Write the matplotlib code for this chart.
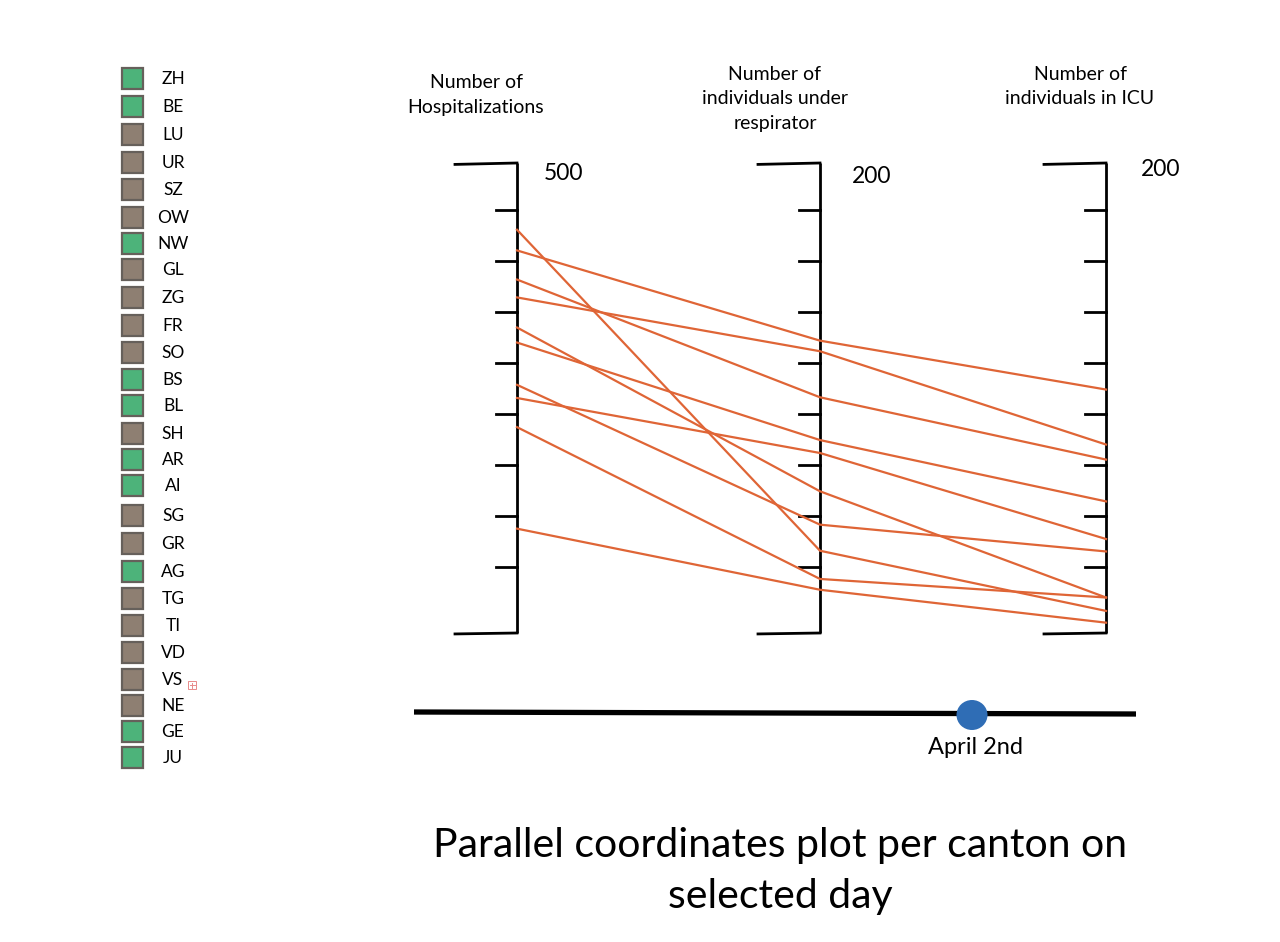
import matplotlib
matplotlib.use("Agg")
import matplotlib.pyplot as plt
from matplotlib.patches import Rectangle, Ellipse
import numpy as np

plt.rcParams['font.family'] = ['Lato', 'DejaVu Sans']

# ---------------- data ----------------
cantons = ["ZH", "BE", "LU", "UR", "SZ", "OW", "NW", "GL", "ZG", "FR", "SO", "BS", "BL",
           "SH", "AR", "AI", "SG", "GR", "AG", "TG", "TI", "VD", "VS", "NE", "GE", "JU"]
selected = ["ZH", "BE", "NW", "BS", "BL", "AR", "AI", "AG", "GE", "JU"]

axis_titles = ["Number of\nHospitalizations",
               "Number of\nindividuals under\nrespirator",
               "Number of\nindividuals in ICU"]
axis_max = [500, 200, 200]

# values per selected canton (hospitalizations, respirator, ICU)
hospitalizations = [429, 407, 376, 357, 325, 309, 264, 250, 219, 111]
respirator       = [35.0, 124.4, 100.3, 119.9, 60.3, 82.1, 46.1, 76.6, 23.0, 18.4]
icu              = [9.4, 103.6, 73.8, 80.2, 15.1, 56.0, 34.7, 40.0, 15.1, 4.4]

selected_day = "April 2nd"
title = "Parallel coordinates plot per canton on\nselected day"

# ---------------- style / layout ----------------
W, H = 1280, 942
GREEN = "#4DB37A"
BROWN = "#8E7F72"
EDGE = "#66605B"
ORANGE = "#DF6536"
BLUE = "#2F6DB5"

fig = plt.figure(figsize=(W / 100, H / 100), dpi=100)
fig.patch.set_facecolor("white")

# layout axes in pixel coordinates for decorations
lay = fig.add_axes([0, 0, 1, 1])
lay.set_xlim(0, W)
lay.set_ylim(H, 0)
lay.axis("off")

# parallel coordinates axes: x in pixels, y normalised 0..1
top_px, bot_px = 163, 633
pc = fig.add_axes([0, (H - bot_px) / H, 1, (bot_px - top_px) / H])
pc.set_xlim(0, W)
pc.set_ylim(0, 1)
pc.axis("off")
pc.patch.set_alpha(0)

axis_x = [517, 820, 1106]
cap_len = 62
tick_len = 21
tick_pos = np.linspace(0.9, 0.14, 8)
max_label_off = [(27, 0.978), (32, 0.972), (35, 0.987)]

for i, x in enumerate(axis_x):
    pc.plot([x, x], [0, 1], color="black", lw=2.0, solid_capstyle="butt", clip_on=False)
    pc.plot([x - cap_len, x], [0.997, 1], color="black", lw=2.0, clip_on=False)
    pc.plot([x - cap_len, x], [-0.002, 0], color="black", lw=2.0, clip_on=False)
    for t in tick_pos:
        pc.plot([x - tick_len, x], [t, t], color="black", lw=2.0, clip_on=False)
    dx, yy = max_label_off[i]
    pc.text(x + dx, yy, str(axis_max[i]), fontsize=16.5, ha="left", va="center")

# polylines
data = np.array([hospitalizations, respirator, icu], dtype=float)
norm = data / np.array(axis_max, dtype=float)[:, None]
for k in range(norm.shape[1]):
    pc.plot(axis_x, norm[:, k], color=ORANGE, lw=1.6, clip_on=False, zorder=3)

# axis titles
title_pos = [(476, 95), (775, 99), (1080, 87)]
for (tx, ty), t in zip(title_pos, axis_titles):
    lay.text(tx, ty, t, fontsize=14, ha="center", va="center", linespacing=1.5)

# legend of cantons
row_y = [79, 107, 135, 163, 190, 218, 244, 270, 298, 326, 353, 380, 406,
         434, 460, 486, 516, 544, 572, 599, 626, 653, 680, 706, 732, 758]
for c, y in zip(cantons, row_y):
    col = GREEN if c in selected else BROWN
    lay.add_patch(Rectangle((122, y - 11), 21, 21, facecolor=col, edgecolor=EDGE, lw=1.6))
    lay.text(173, y, c, fontsize=12.5, ha="center", va="center")
    if c == "VS":
        lay.add_patch(Rectangle((188, y + 1), 8, 8, facecolor="none", edgecolor="#E88A8A", lw=0.7))
        lay.plot([192, 192], [y + 2.5, y + 7.5], color="#E88A8A", lw=0.7)
        lay.plot([189.5, 194.5], [y + 5, y + 5], color="#E88A8A", lw=0.7)

# date slider
lay.plot([414, 1136], [712, 714], color="black", lw=3.8, solid_capstyle="butt")
lay.add_patch(Ellipse((972, 715), 31, 30, facecolor=BLUE, edgecolor="none", zorder=4))
lay.text(976, 747, selected_day, fontsize=17, ha="center", va="center")

# title
lay.text(780, 871, title, fontsize=29.5, ha="center", va="center", linespacing=1.45)

fig.savefig("out.png", dpi=100)
